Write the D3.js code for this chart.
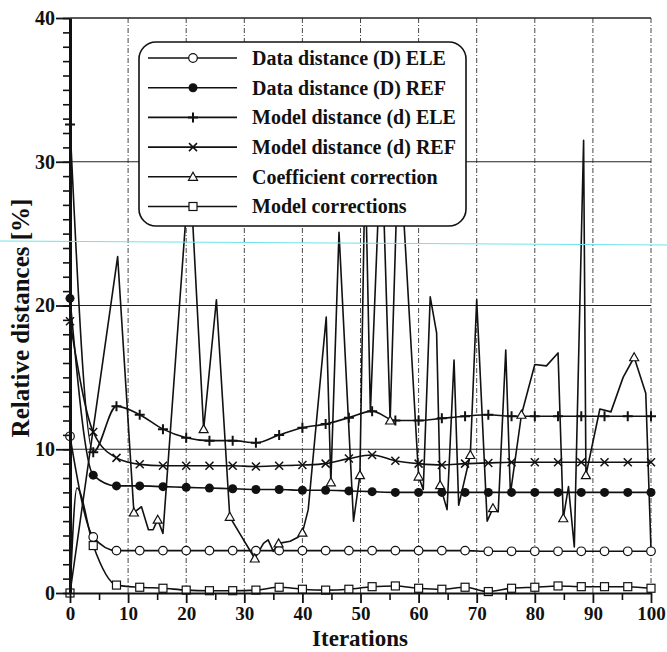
<!DOCTYPE html>
<html>
<head>
<meta charset="utf-8">
<script src="https://cdn.jsdelivr.net/npm/d3@7"></script>
<style>
  html, body { margin: 0; padding: 0; background: #fff; }
  svg { display: block; }
  text { font-family: "Liberation Serif", "Times New Roman", serif; font-weight: bold; fill: #111; }
</style>
</head>
<body>
<svg id="chart" width="667" height="652"></svg>
<script>
// ---- data (relative distances in %, per iteration) ----
const stepIterations = [0, 4, 8, 12, 16, 20, 24, 28, 32, 36, 40, 44, 48, 52, 56, 60, 64, 68, 72, 76, 80, 84, 88, 92, 96, 100];

const dataDistanceEle = [10.9, 3.9, 2.95, 2.95, 2.95, 2.95, 2.95, 2.95, 2.95, 2.95, 2.95, 2.95, 2.95,
  2.95, 2.95, 2.95, 2.95, 2.95, 2.9, 2.9, 2.9, 2.9, 2.9, 2.9, 2.9, 2.9];
const dataDistanceRef = [20.5, 8.2, 7.45, 7.45, 7.4, 7.35, 7.3, 7.25, 7.2, 7.2, 7.15, 7.15, 7.1,
  7.05, 7.0, 7.0, 7.0, 7.0, 7.0, 7.0, 7.0, 7.0, 7.0, 7.0, 7.0, 7.0];
const modelDistanceEle = [32.6, 9.8, 13.0, 12.4, 11.4, 10.8, 10.6, 10.6, 10.45, 11.0, 11.5, 11.75, 12.2,
  12.65, 12.0, 12.0, 12.15, 12.3, 12.4, 12.3, 12.3, 12.3, 12.3, 12.3, 12.3, 12.3];
const modelDistanceRef = [18.9, 11.2, 9.4, 8.95, 8.85, 8.85, 8.85, 8.85, 8.8, 8.85, 8.9, 9.0, 9.35,
  9.6, 9.2, 9.0, 8.9, 9.0, 9.05, 9.1, 9.1, 9.1, 9.1, 9.1, 9.1, 9.1];

const modelCorrIterations = [0, 1.2, 4, 8, 12, 16, 20, 24, 28, 32, 36, 40, 44, 48, 52, 56, 60, 64, 68, 72, 76, 80, 84, 88, 92, 96, 100];
const modelCorrValues = [0, 7.3, 3.3, 0.55, 0.4, 0.33, 0.2, 0.16, 0.16, 0.2, 0.4, 0.26, 0.2, 0.26,
  0.44, 0.49, 0.33, 0.26, 0.4, 0.1, 0.33, 0.4, 0.49, 0.44, 0.44, 0.44, 0.33];
const modelCorrMarked = [0, 4, 8, 12, 16, 20, 24, 28, 32, 36, 40, 44, 48, 52, 56, 60, 64, 68, 72, 76, 80, 84, 88, 92, 96, 100];

const coefIterations = [0, 8.2, 11.0, 12.3, 13.5, 14.3, 15.1, 16.0, 20.6, 23.0, 25.2, 27.5,
  31.8, 33.3, 34.1, 35.0, 35.9, 37.9, 39.3, 40.0, 41.0, 44.1, 44.9, 46.3, 48.8, 49.9,
  50.8, 51.7, 53.6, 55.1, 56.6, 60.0, 60.8, 62.0, 63.1, 63.7, 64.9, 66.1, 66.9, 68.9, 70.0,
  71.8, 72.8, 73.7, 75.0, 75.8, 77.7, 80.0, 82.0, 84.0, 84.9, 85.8, 86.8, 88.4, 88.8,
  91.2, 93.1, 95.2, 97.1, 99.1, 100];
const coefValues = [0, 23.4, 5.6, 6.0, 4.4, 4.4, 5.1, 4.15, 29.8, 11.4, 20.4, 5.3,
  2.4, 3.45, 3.7, 2.9, 3.45, 3.6, 3.9, 4.2, 5.8, 19.2, 7.7, 25.1, 5.0, 8.2,
  30, 12.6, 32, 12.0, 32, 8.1, 7.2, 20.6, 18.1, 7.5, 5.8, 16.2, 6.1, 9.6, 20.4,
  5.0, 5.9, 5.65, 16.9, 6.9, 12.4, 15.9, 15.8, 16.7, 5.2, 7.4, 3.2, 31.5, 8.2,
  12.8, 12.6, 15.0, 16.4, 13.9, 3.0];
const coefMarked = [11.0, 15.1, 23.0, 27.5, 31.8, 35.9, 40.0, 44.9, 49.9, 55.1, 60.0, 63.7,
  68.9, 72.8, 77.7, 84.9, 88.8, 97.1];

const seriesNames = ["Data distance (D) ELE", "Data distance (D) REF", "Model distance (d) ELE",
  "Model distance (d) REF", "Coefficient correction", "Model corrections"];

const xTicks = [0, 10, 20, 30, 40, 50, 60, 70, 80, 90, 100];
const yTicks = [0, 10, 20, 30, 40];

// ---- layout ----
const svg = d3.select("#chart");
const plot = { left: 70, right: 651, top: 18, bottom: 593 };
const x = d3.scaleLinear().domain([0, 100]).range([plot.left, plot.right]);
const y = d3.scaleLinear().domain([0, 40]).range([plot.bottom, plot.top]);

const zip = (xs, ys) => xs.map((v, i) => ({ it: v, val: ys[i] }));

const series = [
  { name: seriesNames[0], marker: "circleOpen", curve: d3.curveMonotoneX, pts: zip(stepIterations, dataDistanceEle), marks: stepIterations },
  { name: seriesNames[1], marker: "circleFilled", curve: d3.curveMonotoneX, pts: zip(stepIterations, dataDistanceRef), marks: stepIterations },
  { name: seriesNames[2], marker: "plus", curve: d3.curveMonotoneX, pts: zip(stepIterations, modelDistanceEle), marks: stepIterations },
  { name: seriesNames[3], marker: "cross", curve: d3.curveMonotoneX, pts: zip(stepIterations, modelDistanceRef), marks: stepIterations },
  { name: seriesNames[4], marker: "triangle", curve: d3.curveLinear, pts: zip(coefIterations, coefValues), marks: coefMarked },
  { name: seriesNames[5], marker: "square", curve: d3.curveMonotoneX, pts: zip(modelCorrIterations, modelCorrValues), marks: modelCorrMarked }
];

// ---- grid ----
const grid = svg.append("g");
grid.selectAll("line.v").data(xTicks.filter(d => d > 0)).join("line")
  .attr("x1", d => x(d)).attr("x2", d => x(d))
  .attr("y1", y(40)).attr("y2", y(0))
  .attr("stroke", "#333").attr("stroke-width", 0.9)
  .attr("stroke-dasharray", "5,2,1,2");
grid.selectAll("line.h").data(yTicks.filter(d => d > 0)).join("line")
  .attr("x1", x(0)).attr("x2", x(100))
  .attr("y1", d => y(d)).attr("y2", d => y(d))
  .attr("stroke", "#222").attr("stroke-width", d => d === 40 ? 1.4 : 1.1);

// ---- marker drawing ----
function drawMarker(g, type) {
  switch (type) {
    case "circleOpen":
      g.append("circle").attr("r", 4.3).attr("fill", "#fff").attr("stroke", "#111").attr("stroke-width", 1.2); break;
    case "circleFilled":
      g.append("circle").attr("r", 4.5).attr("fill", "#111"); break;
    case "plus":
      g.append("path").attr("d", "M-5,0H5M0,-5V5").attr("stroke", "#111").attr("stroke-width", 2).attr("fill", "none"); break;
    case "cross":
      g.append("path").attr("d", "M-4,-4L4,4M-4,4L4,-4").attr("stroke", "#111").attr("stroke-width", 1.5).attr("fill", "none"); break;
    case "triangle":
      g.append("path").attr("d", "M0,-4.5L4.5,3.5L-4.5,3.5Z").attr("fill", "#fff").attr("stroke", "#111").attr("stroke-width", 1.2); break;
    case "square":
      g.append("rect").attr("x", -4).attr("y", -4).attr("width", 8).attr("height", 8)
        .attr("fill", "#fff").attr("stroke", "#111").attr("stroke-width", 1.2); break;
  }
}

// ---- series lines and markers ----
const linesG = svg.append("g");
series.forEach(s => {
  const line = d3.line().x(d => x(d.it)).y(d => y(d.val)).curve(s.curve);
  linesG.append("path").datum(s.pts).attr("d", line)
    .attr("fill", "none").attr("stroke", "#111").attr("stroke-width", 1.6).attr("stroke-linejoin", "round");
});
series.forEach(s => {
  const marked = s.pts.filter(p => s.marks.includes(p.it));
  linesG.append("g").selectAll("g").data(marked).join("g")
    .attr("transform", d => `translate(${x(d.it)},${y(d.val)})`)
    .each(function () { drawMarker(d3.select(this), s.marker); });
});

// ---- axes ----
const yMinor = svg.append("g").attr("transform", `translate(${plot.left},0)`)
  .call(d3.axisLeft(y).tickValues(d3.range(0, 41, 1)).tickSize(7).tickFormat(""));
yMinor.select(".domain").remove();
yMinor.selectAll("line").attr("stroke", "#111").attr("stroke-width", 1.6);

const yAxis = svg.append("g").attr("transform", `translate(${plot.left},0)`)
  .call(d3.axisLeft(y).tickValues(yTicks).tickSize(14).tickPadding(1).tickSizeOuter(0));
yAxis.select(".domain").attr("stroke", "#111").attr("stroke-width", 3);
yAxis.selectAll("line").attr("stroke", "#111").attr("stroke-width", 1.8);
yAxis.selectAll("text").attr("font-size", 20).attr("fill", "#111");

const xMinor = svg.append("g").attr("transform", `translate(0,${plot.bottom})`)
  .call(d3.axisBottom(x).tickValues(xTicks.map(d => d + 5).filter(d => d < 100)).tickSize(7).tickFormat(""));
xMinor.select(".domain").remove();
xMinor.selectAll("line").attr("stroke", "#111").attr("stroke-width", 1.6);

const xAxis = svg.append("g").attr("transform", `translate(0,${plot.bottom})`)
  .call(d3.axisBottom(x).tickValues(xTicks).tickSize(10).tickPadding(4).tickSizeOuter(0));
xAxis.select(".domain").attr("stroke", "#111").attr("stroke-width", 2);
xAxis.selectAll("line").attr("stroke", "#111").attr("stroke-width", 1.8);
xAxis.selectAll("text").attr("font-size", 19).attr("fill", "#111");

svg.selectAll(".tick text").style("font-family", "'Liberation Serif', 'Times New Roman', serif").style("font-weight", "bold");

// ---- axis titles ----
svg.append("text").attr("x", 360).attr("y", 646).attr("text-anchor", "middle")
  .attr("font-size", 23).text("Iterations");
svg.append("text").attr("transform", "translate(29,318) rotate(-90)").attr("text-anchor", "middle")
  .attr("font-size", 25).text("Relative distances [%]");

// ---- legend ----
const legend = svg.append("g");
legend.append("rect").attr("x", 139).attr("y", 42).attr("width", 327).attr("height", 184)
  .attr("rx", 17).attr("ry", 17).attr("fill", "#fff").attr("stroke", "#111").attr("stroke-width", 1.6);
const rows = legend.selectAll("g.row").data(series).join("g")
  .attr("transform", (d, i) => `translate(0,${58 + i * 29.7})`);
rows.append("line").attr("x1", 148).attr("x2", 237).attr("y1", 0).attr("y2", 0)
  .attr("stroke", "#111").attr("stroke-width", 1.6);
rows.each(function (d) {
  const g = d3.select(this).append("g").attr("transform", "translate(193,0)");
  drawMarker(g, d.marker);
});
rows.append("text").attr("x", 252).attr("y", 0).attr("dy", "0.34em")
  .attr("font-size", 20).text(d => d.name);

// ---- thin cyan rule across the sheet ----
svg.append("line").attr("x1", 0).attr("x2", 667).attr("y1", 241).attr("y2", 245)
  .attr("stroke", "#6fe3ea").attr("stroke-width", 1);
</script>
</body>
</html>
